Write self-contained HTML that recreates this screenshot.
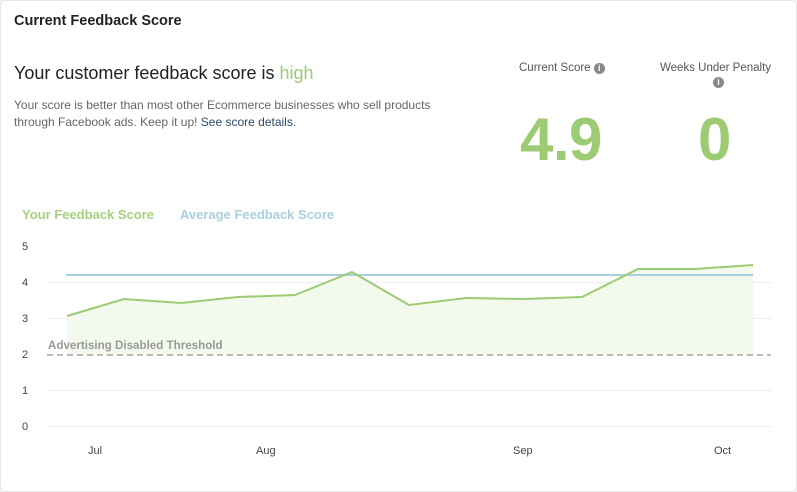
<!DOCTYPE html>
<html><head><meta charset="utf-8"><style>
body{margin:0;background:#f3f3f3;font-family:"Liberation Sans",sans-serif;}
.card{position:absolute;left:0;top:0;width:795px;height:490px;background:#fff;border:1px solid #e6e6e6;border-radius:5px;overflow:hidden}
.t{position:absolute;white-space:nowrap}
</style></head><body><div class="card">
<div class="t" style="left:13px;top:12px;font-size:14.5px;font-weight:bold;color:#222">Current Feedback Score</div>
<div class="t" style="left:13px;top:62px;font-size:18px;color:#222">Your customer feedback score is <span style="color:#9dcb73">high</span></div>
<div class="t" style="left:13px;top:96px;font-size:12px;color:#666;line-height:17px">Your score is better than most other Ecommerce businesses who sell products<br>through Facebook ads. Keep it up! <span style="color:#2d4a6b">See score details</span>.</div>
<div class="t" style="left:518px;top:61px;font-size:11.5px;color:#555">Current Score <span style="display:inline-block;width:11px;height:11px;border-radius:50%;background:#888;color:#fff;font-size:9px;text-align:center;line-height:11px;font-weight:bold;vertical-align:0">i</span></div>
<div class="t" style="left:659px;top:61px;font-size:11.5px;color:#555">Weeks Under Penalty</div>
<div class="t" style="left:712px;top:76px;width:11px;height:11px;border-radius:50%;background:#888;color:#fff;font-size:9px;text-align:center;line-height:11px;font-weight:bold">i</div>
<div class="t" style="left:519px;top:104px;font-size:60px;font-weight:bold;color:#9dcb73;letter-spacing:-0.5px">4.9</div>
<div class="t" style="left:697px;top:104px;font-size:60px;font-weight:bold;color:#9dcb73">0</div>
<div class="t" style="left:21px;top:206px;font-size:13px;font-weight:bold;color:#a6d07e">Your Feedback Score</div>
<div class="t" style="left:179px;top:206px;font-size:13px;font-weight:bold;color:#a9d0de">Average Feedback Score</div>
<svg width="797" height="492" style="position:absolute;left:0;top:0" font-family="Liberation Sans, sans-serif">
<g stroke="#ececec" stroke-width="1">
<line x1="46" x2="770" y1="281.5" y2="281.5"/><line x1="46" x2="770" y1="317.5" y2="317.5"/>
<line x1="46" x2="770" y1="389.5" y2="389.5"/><line x1="46" x2="770" y1="425.5" y2="425.5"/>
</g>
<g font-size="11" fill="#444">
<text x="21" y="249">5</text><text x="21" y="285">4</text><text x="21" y="321">3</text><text x="21" y="357">2</text><text x="21" y="393">1</text><text x="21" y="429">0</text>
<text x="87" y="453">Jul</text><text x="255" y="453">Aug</text><text x="512" y="453">Sep</text><text x="713" y="453">Oct</text>
</g>
<polygon fill="#f3f9ec" points="66,315 123,298 180,302 237,296 294,294 351,271 408,304 465,297 522,298 581,296 637,268 694,268 752,264 752,354 66,354"/>
<line x1="65" x2="752" y1="274" y2="274" stroke="#a9d0de" stroke-width="2"/>
<polyline fill="none" stroke="#9dcb73" stroke-width="2" points="66,315 123,298 180,302 237,296 294,294 351,271 408,304 465,297 522,298 581,296 637,268 694,268 752,264"/>
<line x1="46" x2="770" y1="354" y2="354" stroke="#bbb" stroke-width="2" stroke-dasharray="6,4"/>
<text x="47" y="348" font-size="11.6" font-weight="bold" fill="#999">Advertising Disabled Threshold</text>
</svg>
</div></body></html>
